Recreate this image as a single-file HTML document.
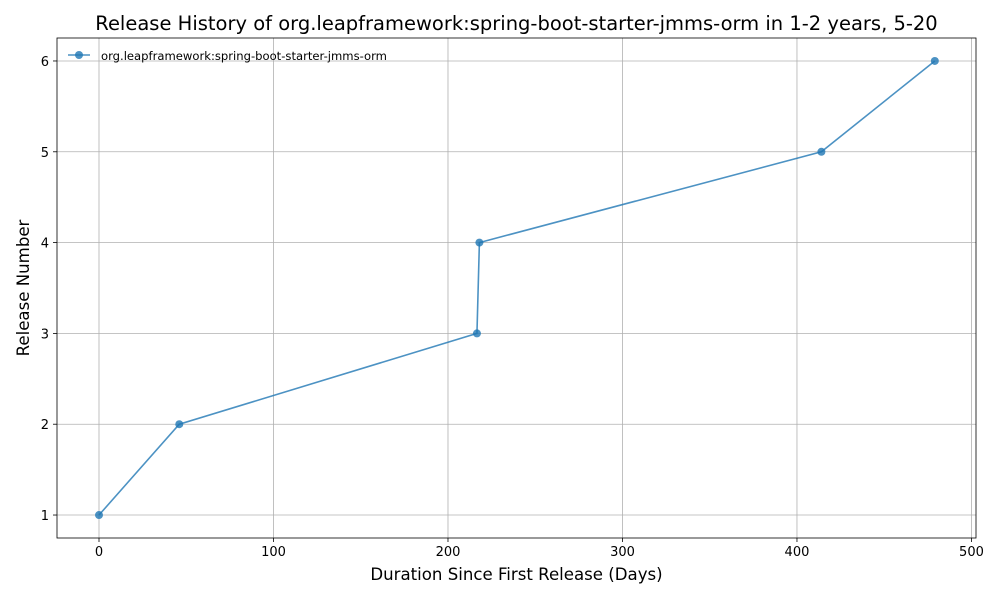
<!DOCTYPE html>
<html><head><meta charset="utf-8">
<style>
html,body{margin:0;padding:0;background:#fff;}
svg{display:block;font-family:"DejaVu Sans","Liberation Sans",sans-serif;}
</style></head>
<body>
<svg id="chart" width="1000" height="600"></svg>
<script>
const days = [0, 46, 216.6, 218, 414, 479];
const releases = [1, 2, 3, 4, 5, 6];
const xTicks = [0, 100, 200, 300, 400, 500];
const yTicks = [1, 2, 3, 4, 5, 6];
const seriesLabel = "org.leapframework:spring-boot-starter-jmms-orm";

const L=57,R=976,T=38,B=538;
const xMin=-24.07,xMax=502.6,yMin=0.747,yMax=6.253;
const xs=v=>L+(v-xMin)/(xMax-xMin)*(R-L);
const ys=v=>B-(v-yMin)/(yMax-yMin)*(B-T);
const NS="http://www.w3.org/2000/svg";
const svg=document.getElementById('chart');
function mk(tag,attrs,parent){const e=document.createElementNS(NS,tag);for(const k in attrs)e.setAttribute(k,attrs[k]);(parent||svg).appendChild(e);return e;}

const grid=mk('g',{});


xTicks.forEach(t=>{const x=xs(t);
  mk('line',{x1:x,x2:x,y1:T,y2:B,stroke:'#b0b0b0','stroke-width':0.8},grid);
  mk('line',{x1:x,x2:x,y1:B,y2:B+4,stroke:'#000','stroke-width':0.8});
  const tx=mk('text',{x:x,y:B+18,'text-anchor':'middle','font-size':13,fill:'#000'});
  tx.textContent=t;
  
  
});
yTicks.forEach(t=>{const y=ys(t);
  mk('line',{x1:L,x2:R,y1:y,y2:y,stroke:'#b0b0b0','stroke-width':0.8},grid);
  mk('line',{x1:L-4,x2:L,y1:y,y2:y,stroke:'#000','stroke-width':0.8});
  const tx=mk('text',{x:L-8,y:y+5,'text-anchor':'end','font-size':13,fill:'#000'});
  tx.textContent=t;
  
  
});
const frame=mk('rect',{x:L,y:T,width:R-L,height:B-T,fill:'none',stroke:'#000','stroke-width':0.8});



const pts=days.map((d,i)=>xs(d)+','+ys(releases[i])).join(' ');
const line=mk('polyline',{points:pts,fill:'none',stroke:'#1f77b4','stroke-opacity':0.8,'stroke-width':1.6});


days.forEach((d,i)=>{
  const c=mk('circle',{cx:xs(d),cy:ys(releases[i]),r:4,fill:'#1f77b4','fill-opacity':0.8});
  
  
});

const title=mk('text',{x:(L+R)/2,y:30,'text-anchor':'middle','font-size':19.5,fill:'#000'});
title.textContent="Release History of org.leapframework:spring-boot-starter-jmms-orm in 1-2 years, 5-20";


const xt=mk('text',{x:(L+R)/2,y:580,'text-anchor':'middle','font-size':16.6,fill:'#000'});
xt.textContent="Duration Since First Release (Days)";


const yt=mk('text',{x:0,y:0,'text-anchor':'middle','font-size':16.6,fill:'#000',transform:`translate(29,${(T+B)/2}) rotate(-90)`});
yt.textContent="Release Number";



const lg=mk('g',{});


mk('line',{x1:68,x2:90,y1:55,y2:55,stroke:'#1f77b4','stroke-opacity':0.8,'stroke-width':1.6},lg);
mk('circle',{cx:79,cy:55,r:4,fill:'#1f77b4','fill-opacity':0.8},lg);
const lt=mk('text',{x:101,y:60,'font-size':11.6,fill:'#000'},lg);
lt.textContent=seriesLabel;
</script>
</body></html>
